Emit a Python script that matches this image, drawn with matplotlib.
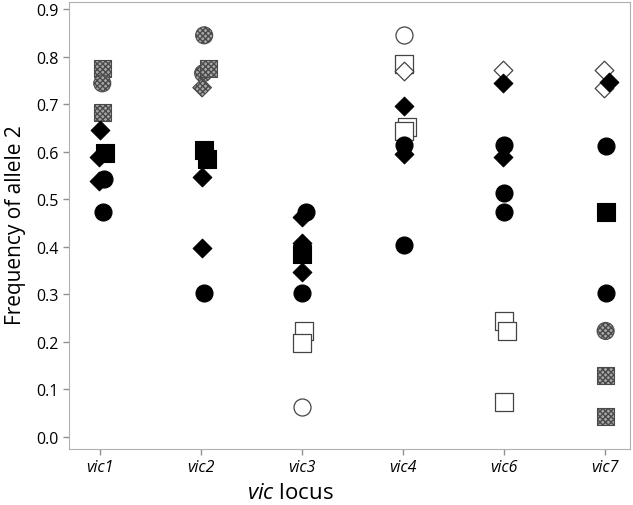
import matplotlib
matplotlib.use('Agg')
import matplotlib.pyplot as plt

plt.rcParams['font.family'] = ['Open Sans', 'DejaVu Sans']
plt.rcParams['mathtext.fontset'] = 'custom'
plt.rcParams['mathtext.it'] = 'Open Sans:italic'
plt.rcParams['mathtext.rm'] = 'Open Sans'

loci = ['vic1', 'vic2', 'vic3', 'vic4', 'vic6', 'vic7']

# each point: locus index, small x nudge, frequency, marker, fill style
loc_idx = [0, 0, 0, 0, 0, 0, 0, 0, 0,
           1, 1, 1, 1, 1, 1, 1, 1, 1,
           2, 2, 2, 2, 2, 2, 2, 2, 2,
           3, 3, 3, 3, 3, 3, 3, 3, 3,
           4, 4, 4, 4, 4, 4, 4, 4, 4,
           5, 5, 5, 5, 5, 5, 5, 5, 5]
nudge = [0.02, 0.02, 0.02, 0.0, 0.05, -0.01, 0.04, -0.01, 0.03,
         0.03, 0.02, 0.07, 0.01, 0.03, 0.06, 0.01, 0.01, 0.03,
         0.04, 0.0, 0.0, 0.0, 0.0, 0.0, 0.02, 0.0, 0.0,
         0.01, 0.01, 0.01, 0.01, 0.04, 0.01, 0.01, 0.01, 0.01,
         -0.01, -0.01, 0.0, -0.01, 0.0, 0.0, 0.0, 0.03, 0.0,
         -0.01, -0.01, 0.04, 0.01, 0.01, 0.01, 0.01, 0.01, 0.01]
freq = [0.775, 0.744, 0.683, 0.645, 0.597, 0.588, 0.542, 0.538, 0.473,
        0.845, 0.765, 0.775, 0.735, 0.603, 0.584, 0.546, 0.397, 0.303,
        0.473, 0.462, 0.408, 0.385, 0.347, 0.303, 0.223, 0.197, 0.063,
        0.845, 0.784, 0.769, 0.696, 0.652, 0.643, 0.614, 0.595, 0.403,
        0.771, 0.745, 0.614, 0.588, 0.514, 0.473, 0.244, 0.223, 0.073,
        0.771, 0.735, 0.747, 0.612, 0.473, 0.303, 0.223, 0.130, 0.042]
shape = ['s', 'o', 's', 'D', 's', 'D', 'o', 'D', 'o',
         'o', 'o', 's', 'D', 's', 's', 'D', 'D', 'o',
         'o', 'D', 'D', 's', 'D', 'o', 's', 's', 'o',
         'o', 's', 'D', 'D', 's', 's', 'o', 'D', 'o',
         'D', 'D', 'o', 'D', 'o', 'o', 's', 's', 's',
         'D', 'D', 'D', 'o', 's', 'o', 'o', 's', 's']
fill = ['gray', 'gray', 'gray', 'black', 'black', 'black', 'black', 'black', 'black',
        'gray', 'gray', 'gray', 'gray', 'black', 'black', 'black', 'black', 'black',
        'black', 'black', 'black', 'black', 'black', 'black', 'open', 'open', 'open',
        'open', 'open', 'open', 'black', 'open', 'open', 'black', 'black', 'black',
        'open', 'black', 'black', 'black', 'black', 'black', 'open', 'open', 'open',
        'open', 'open', 'black', 'black', 'black', 'black', 'gray', 'gray', 'gray']

styles = {
    'black': dict(facecolor='black', edgecolor='black', linewidth=0.8),
    'gray': dict(facecolor='#a8a8a8', edgecolor='#4a4a4a', linewidth=0.8, hatch='xxxxxx'),
    'open': dict(facecolor='white', edgecolor='#444444', linewidth=0.9),
}
sizes = {'o': 150, 's': 150, 'D': 90}

fig = plt.figure(figsize=(6.33, 5.06), dpi=100)
ax = fig.add_axes([0.109, 0.111, 0.886, 0.883])

for i in range(len(freq)):
    ax.scatter(loc_idx[i] + nudge[i], freq[i], marker=shape[i], s=sizes[shape[i]],
               zorder=3, **styles[fill[i]])

ax.set_xlim(-0.31, 5.25)
ax.set_ylim(-0.025, 0.915)
ax.set_xticks(range(len(loci)))
ax.set_xticklabels(loci, fontstyle='italic', fontsize=11.5)
ax.set_yticks([i / 10 for i in range(10)])
ax.set_yticklabels([f'{i / 10:.1f}' for i in range(10)], fontsize=11.5)

for sp in ax.spines.values():
    sp.set_color('#b0b0b0')
ax.tick_params(color='#909090', length=4, width=1)

fig.text(0.024, 0.555, 'Frequency of allele 2', rotation=90, fontsize=15,
         ha='center', va='center', fontweight='medium')
fig.text(0.458, 0.024, r'$\it{vic}$ locus', fontsize=16, ha='center', va='center')

fig.savefig('out.png', dpi=100)
